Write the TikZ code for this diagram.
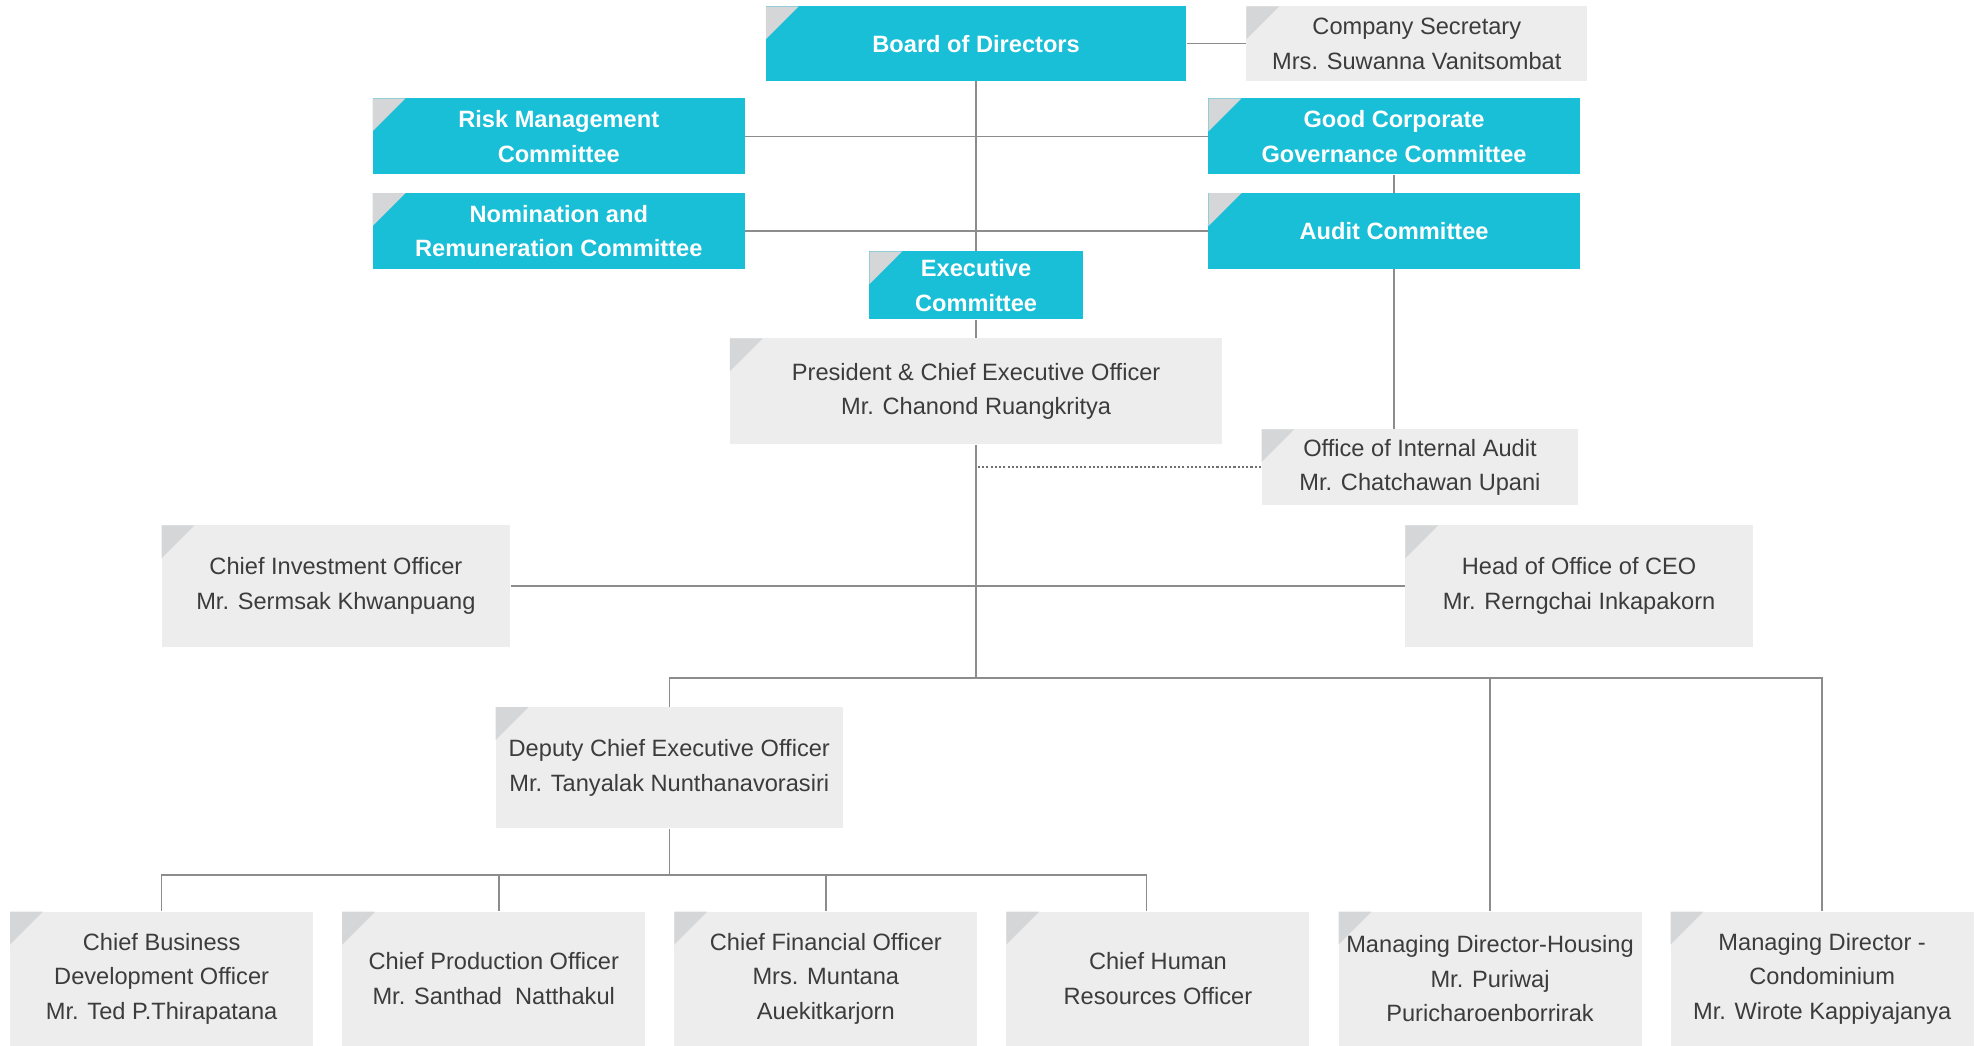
\documentclass[tikz,border=0pt]{standalone}
\usepackage{fontspec}
\setmainfont{Liberation Sans}
\usetikzlibrary{positioning}

\definecolor{bdcyan}{HTML}{19BED7}
\definecolor{boxgrey}{HTML}{EDEDED}
\definecolor{cornergrey}{HTML}{D5D6D8}
\definecolor{linegrey}{HTML}{8C8C8C}
\definecolor{txtgrey}{HTML}{3C3C3C}

\def\unit{0.025cm}
\def\cornersize{0.65cm}

\begin{document}
\begin{tikzpicture}[x=\unit, y=-\unit,
    every node/.style={font=\fontsize{13.3}{19.5}\selectfont, align=center, inner sep=0pt},
    sz/.style 2 args={minimum width=#1*\unit, minimum height=#2*\unit},
    corner/.style={path picture={\fill[cornergrey] (path picture bounding box.north west)
      -- ++(\cornersize,0pt) -- ++(-\cornersize,-\cornersize) -- cycle;}},
    cyanbox/.style={rectangle, fill=bdcyan, corner, text=white, font=\fontsize{13.3}{19.5}\selectfont\bfseries},
    greybox/.style={rectangle, fill=boxgrey, corner, text=txtgrey},
    link/.style={draw=linegrey, line width=0.8pt}]

    \useasboundingbox (0,0) rectangle (1568,828);

    % board and committees
    \node[cyanbox, sz={333}{59}] (board) at (773,34.5) {Board of Directors};
    \node[greybox, sz={270}{59}] (sec) at (1122,34.5) {Company Secretary\\Mrs. Suwanna Vanitsombat};
    \node[cyanbox, sz={295}{60}] (risk) at (442.5,108) {Risk Management\\Committee};
    \node[cyanbox, sz={294}{60}] (gcg) at (1104,108) {Good Corporate\\Governance Committee};
    \node[cyanbox, sz={295}{60}] (nom) at (442.5,183) {Nomination and\\Remuneration Committee};
    \node[cyanbox, sz={294}{60}] (audit) at (1104,183) {Audit Committee};
    \node[cyanbox, sz={169}{54}] (exec) at (773,226) {Executive\\Committee};

    % management
    \node[greybox, sz={390}{84}] (ceo) at (773,310) {President \& Chief Executive Officer\\Mr. Chanond Ruangkritya};
    \node[greybox, sz={251}{60}] (oia) at (1124.5,370) {Office of Internal Audit\\Mr. Chatchawan Upani};
    \node[greybox, sz={276}{96}] (cio) at (266,464) {Chief Investment Officer\\Mr. Sermsak Khwanpuang};
    \node[greybox, sz={275}{96}] (hoc) at (1250.5,464) {Head of Office of CEO\\Mr. Rerngchai Inkapakorn};
    \node[greybox, sz={275}{96}] (dceo) at (530,608) {Deputy Chief Executive Officer\\Mr. Tanyalak Nunthanavorasiri};

    % bottom row
    \node[greybox, sz={240}{106}] (cbd) at (128,775) {Chief Business\\Development Officer\\Mr. Ted P.Thirapatana};
    \node[greybox, sz={240}{106}] (cpo) at (391,775) {Chief Production Officer\\Mr. Santhad\ \ Natthakul};
    \node[greybox, sz={240}{106}] (cfo) at (654,775) {Chief Financial Officer\\Mrs. Muntana\\Auekitkarjorn};
    \node[greybox, sz={240}{106}] (chr) at (917,775) {Chief Human\\Resources Officer};
    \node[greybox, sz={240}{106}] (mdh) at (1180,775) {Managing Director-Housing\\Mr. Puriwaj\\Puricharoenborrirak};
    \node[greybox, sz={240}{106}] (mdc) at (1443,775) {Managing Director -\\Condominium\\Mr. Wirote Kappiyajanya};

    \coordinate (bus) at (773,537);
    \coordinate (bus2) at (530,693);

    % connectors
    \draw[link] (board.east) -- (sec.west);
    \draw[link] (board.south) -- (exec.north);
    \draw[link] (risk.east) -- (gcg.west);
    \draw[link] (nom.east) -- (audit.west);
    \draw[link] (gcg.south) -- (audit.north);
    \draw[link] (audit.south) -- (audit.south |- oia.north);
    \draw[link] (exec.south) -- (ceo.north);
    \draw[link] (ceo.south) -- (bus);
    \draw[draw=linegrey!80!black, line width=0.9pt, dash pattern=on 1.2pt off 1.2pt] (oia.west) -- (oia.west -| ceo.south);
    \draw[link] (cio.east) -- (hoc.west);
    \draw[link] (dceo.north) |- (bus);
    \draw[link] (bus) -| (mdh.north);
    \draw[link] (bus) -| (mdc.north);
    \draw[link] (dceo.south) -- (bus2);
    \draw[link] (bus2) -| (cbd.north);
    \draw[link] (bus2) -| ([xshift=0.1cm]cpo.north);
    \draw[link] (bus2) -| (cfo.north);
    \draw[link] (bus2) -| ([xshift=-0.225cm]chr.north);
  \end{tikzpicture}
\end{document}
